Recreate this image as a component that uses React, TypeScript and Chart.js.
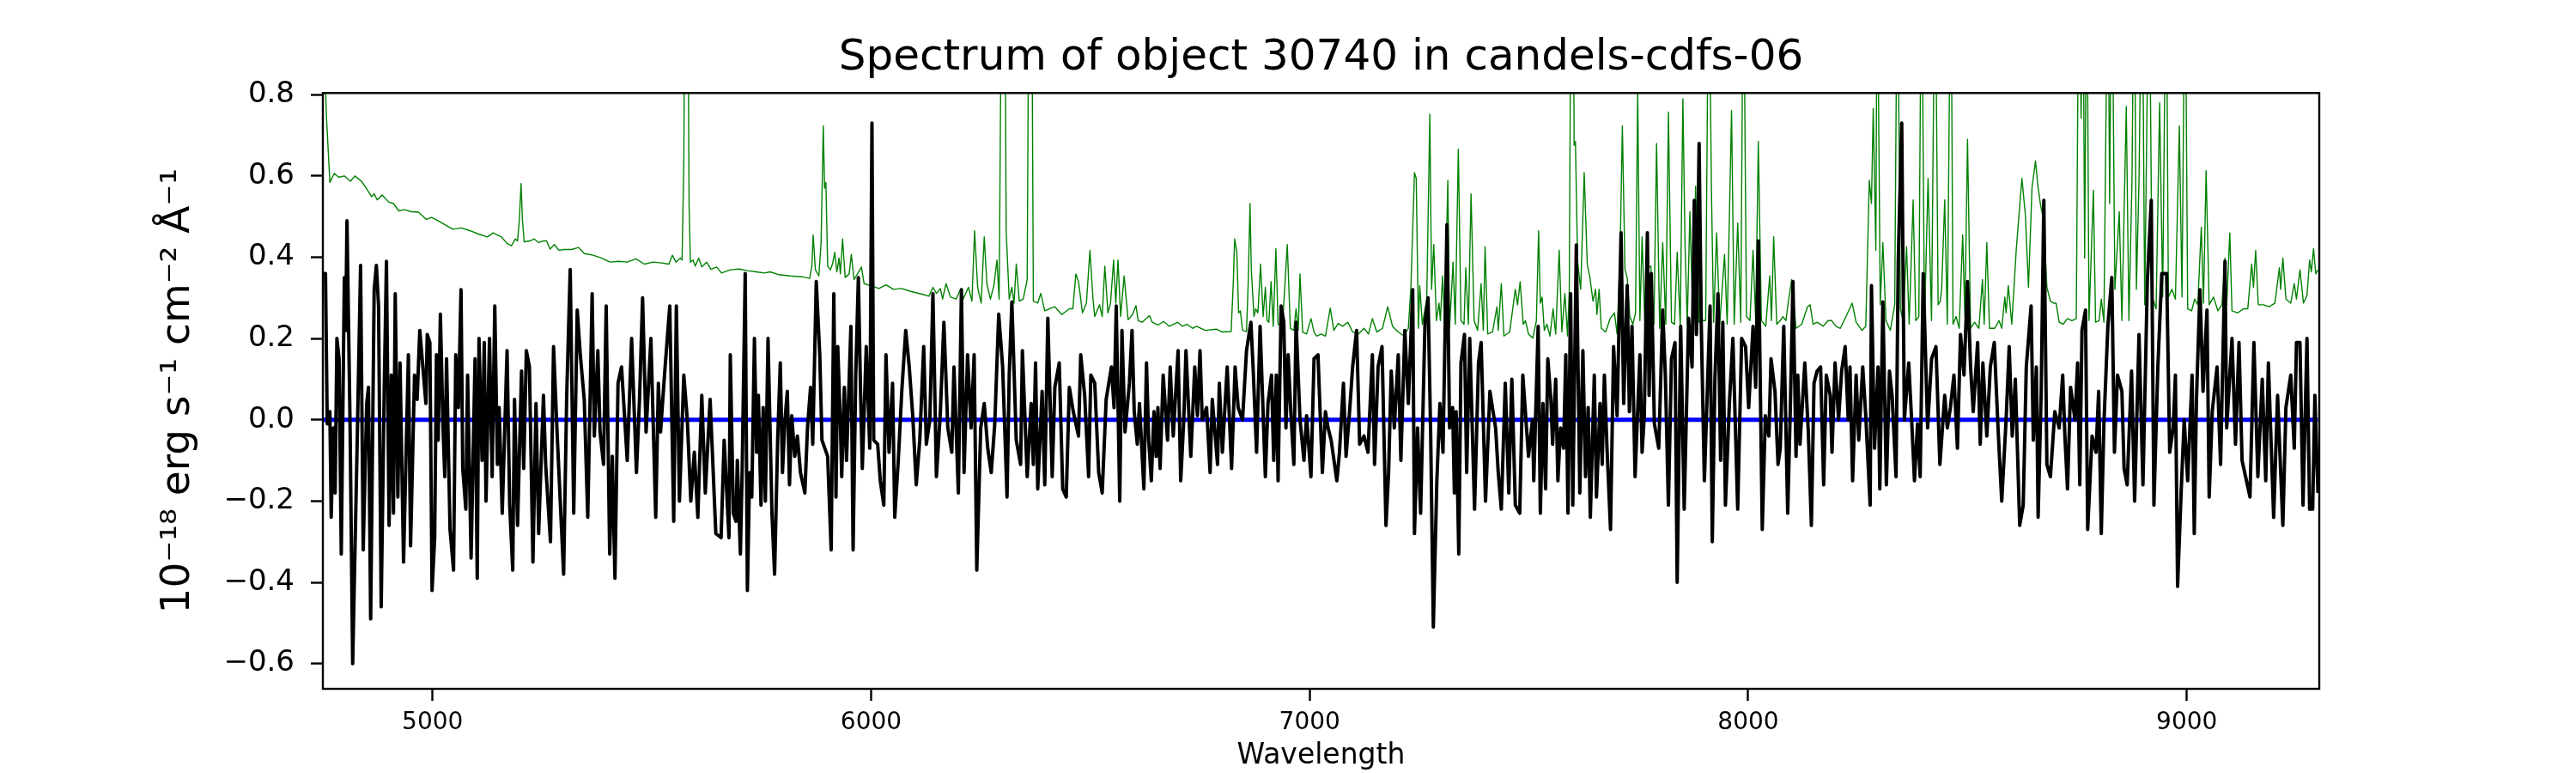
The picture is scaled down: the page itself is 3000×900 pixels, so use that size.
import { useEffect, useRef } from 'react';
import { Chart, registerables } from 'chart.js';

Chart.register(...registerables);

const FONT = 'DejaVu Sans';

const titleText = 'Spectrum of object 30740 in candels-cdfs-06';
const xLabel = 'Wavelength';
const yLabel = '10⁻¹⁸ erg s⁻¹ cm⁻² Å⁻¹';
const xTicks = [5000, 6000, 7000, 8000, 9000];
const yTicks = [-0.6, -0.4, -0.2, 0.0, 0.2, 0.4, 0.6, 0.8];
const xRange = [4750, 9302];
const yRange = [-0.662, 0.804];
const modelLevel = 0;

// [wavelength, flux] - extracted 1D spectrum (black)
const fluxSpectrum: [number, number][] = [
  [4750, 0.36], [4756, 0.36], [4760, -0.01], [4766, 0.02], [4769, -0.24], [4774, -0.02], [4778, -0.18], [4782, 0.2],
  [4787, 0.15], [4792, -0.33], [4799, 0.35], [4802, 0.22], [4805, 0.49], [4812, -0.01], [4818, -0.6], [4828, -0.07],
  [4836, 0.38], [4842, -0.32], [4850, 0.04], [4854, 0.08], [4859, -0.49], [4867, 0.32], [4872, 0.38], [4877, 0.28],
  [4883, -0.46], [4890, 0.08], [4895, 0.39], [4901, -0.26], [4906, 0.11], [4911, -0.23], [4915, 0.31], [4921, -0.19],
  [4926, 0.14], [4934, -0.35], [4945, 0.16], [4950, -0.31], [4959, 0.11], [4965, 0.05], [4971, 0.22], [4978, 0.13],
  [4985, 0.04], [4988, 0.21], [4994, 0.19], [4999, -0.42], [5005, -0.29], [5009, 0.16], [5013, -0.05], [5018, 0.26],
  [5024, -0.02], [5028, -0.14], [5032, 0.15], [5040, -0.27], [5048, -0.37], [5053, 0.16], [5059, 0.03], [5065, 0.32],
  [5069, -0.12], [5076, -0.22], [5080, 0.11], [5088, -0.34], [5097, 0.15], [5102, -0.39], [5106, 0.2], [5113, -0.1],
  [5118, 0.19], [5122, -0.2], [5130, 0.2], [5136, -0.14], [5142, 0.28], [5148, -0.11], [5152, 0.03], [5159, -0.23],
  [5170, 0.17], [5176, -0.21], [5183, -0.37], [5187, 0.05], [5194, -0.26], [5203, 0.12], [5208, -0.12], [5214, 0.17],
  [5221, 0.13], [5229, -0.35], [5236, 0.04], [5242, -0.28], [5253, 0.06], [5258, -0.11], [5269, -0.3], [5276, 0.18],
  [5284, -0.03], [5299, -0.38], [5306, 0.06], [5314, 0.37], [5322, -0.23], [5330, 0.27], [5337, 0.16], [5346, 0.05],
  [5354, -0.24], [5364, 0.31], [5369, -0.04], [5377, 0.17], [5382, -0.03], [5390, -0.11], [5396, 0.28], [5404, -0.33],
  [5410, -0.09], [5416, -0.39], [5423, 0.09], [5431, 0.13], [5444, -0.1], [5454, 0.2], [5465, -0.13], [5472, 0.05],
  [5479, 0.3], [5487, -0.03], [5498, 0.2], [5509, -0.24], [5515, 0.09], [5520, -0.03], [5529, 0.11], [5541, 0.28],
  [5550, -0.25], [5556, 0.28], [5563, -0.2], [5573, 0.11], [5581, 0.0], [5589, -0.2], [5597, -0.08], [5605, -0.24],
  [5614, 0.06], [5622, -0.18], [5633, 0.05], [5646, -0.28], [5658, -0.29], [5665, -0.05], [5676, -0.29],
  [5679, 0.16], [5686, -0.23], [5692, -0.25], [5695, -0.1], [5702, -0.33], [5706, -0.13], [5713, 0.36], [5718, -0.42],
  [5723, -0.13], [5728, -0.19], [5734, 0.2], [5739, -0.08], [5743, 0.06], [5749, -0.21], [5754, 0.03], [5759, -0.2],
  [5765, 0.2], [5774, -0.23], [5780, -0.38], [5787, -0.05], [5793, 0.14], [5798, -0.13], [5803, -0.01], [5809, 0.07],
  [5814, -0.16], [5819, 0.01], [5826, -0.09], [5832, -0.04], [5839, -0.13], [5849, -0.18], [5855, -0.02], [5862, 0.08],
  [5867, -0.06], [5875, 0.34], [5883, 0.16], [5888, -0.05], [5901, -0.09], [5909, -0.32], [5915, 0.31], [5920, -0.19],
  [5924, 0.18], [5930, -0.01], [5933, -0.14], [5939, 0.08], [5944, -0.1], [5954, 0.23], [5959, -0.32], [5965, 0.11],
  [5971, 0.35], [5976, 0.07], [5980, -0.12], [5989, 0.18], [5997, -0.07], [6002, 0.73], [6006, -0.05], [6015, -0.06],
  [6021, -0.15], [6029, -0.21], [6034, 0.16], [6041, -0.08], [6049, 0.09], [6054, -0.24], [6062, -0.1], [6070, 0.07],
  [6079, 0.22], [6087, 0.13], [6095, 0.01], [6103, -0.16], [6111, -0.05], [6120, 0.18], [6126, -0.06], [6134, 0.0],
  [6141, 0.31], [6149, -0.14], [6158, 0.02], [6166, 0.24], [6175, -0.02], [6184, -0.08], [6189, 0.13], [6199, -0.18],
  [6206, 0.32], [6212, -0.13], [6220, 0.16], [6228, -0.02], [6235, 0.16], [6241, -0.37], [6250, -0.02], [6258, 0.04],
  [6266, -0.07], [6274, -0.13], [6282, -0.01], [6291, 0.26], [6300, 0.13], [6310, -0.19], [6315, 0.11], [6321, 0.29],
  [6331, -0.05], [6341, -0.11], [6345, 0.17], [6356, -0.14], [6365, 0.04], [6370, -0.11], [6375, 0.14], [6380, -0.17],
  [6390, 0.07], [6396, -0.16], [6403, 0.25], [6413, -0.14], [6419, 0.08], [6429, 0.14], [6437, -0.17], [6445, -0.19],
  [6452, 0.08], [6461, 0.02], [6473, -0.04], [6478, 0.16], [6487, 0.06], [6496, -0.14], [6501, 0.11], [6510, 0.09],
  [6519, -0.13], [6527, -0.18], [6536, 0.05], [6548, 0.13], [6554, 0.03], [6559, 0.28], [6567, -0.2], [6572, 0.22],
  [6579, -0.03], [6589, 0.09], [6595, 0.22],
  [6600, 0.02], [6607, -0.06], [6612, 0.04], [6622, -0.17], [6628, 0.14], [6633, -0.05], [6639, -0.15], [6645, 0.02],
  [6650, -0.09], [6654, 0.03], [6659, -0.12], [6666, 0.11], [6676, -0.05], [6682, 0.13], [6689, -0.04], [6700, 0.17],
  [6706, -0.15], [6713, 0.0], [6718, 0.17], [6729, -0.09], [6738, 0.13], [6744, 0.01], [6750, 0.17], [6755, 0.0],
  [6765, 0.03], [6773, -0.13], [6778, 0.05], [6790, -0.11], [6794, 0.09], [6801, -0.08], [6812, 0.13], [6822, -0.12],
  [6830, 0.13], [6837, 0.03], [6847, 0.0], [6856, 0.17], [6866, 0.24], [6871, 0.13], [6879, -0.08], [6887, 0.23],
  [6899, -0.14], [6905, 0.04], [6913, 0.11], [6918, -0.1], [6924, 0.11], [6928, -0.15], [6935, 0.28], [6941, 0.24],
  [6946, -0.02], [6951, 0.16], [6957, 0.02], [6964, -0.11], [6969, 0.24], [6978, 0.0], [6987, -0.1], [6993, 0.01],
  [7003, -0.14], [7010, 0.15], [7019, 0.16], [7029, -0.13], [7036, 0.02], [7042, -0.02], [7049, -0.05], [7062, -0.15],
  [7068, -0.08], [7077, 0.09], [7083, -0.09], [7091, 0.02], [7098, 0.13], [7107, 0.22], [7114, -0.06], [7124, -0.04],
  [7133, -0.08], [7143, 0.16], [7148, -0.11], [7156, 0.13], [7165, 0.18], [7174, -0.26], [7180, -0.13], [7186, 0.12],
  [7193, -0.02], [7202, 0.16], [7208, -0.1], [7217, 0.22], [7225, 0.04], [7235, 0.32], [7239, -0.28], [7246, -0.02],
  [7253, -0.23], [7263, 0.24], [7270, 0.3], [7276, -0.04], [7282, -0.51], [7290, -0.15], [7297, 0.04], [7304, -0.08],
  [7313, 0.48], [7319, -0.02], [7326, 0.03], [7330, -0.18], [7334, 0.02], [7340, -0.33], [7345, 0.14], [7353, 0.21],
  [7358, -0.13], [7365, 0.2], [7376, -0.22], [7385, 0.14], [7391, 0.19], [7401, -0.2], [7411, 0.07], [7424, -0.02],
  [7430, -0.13], [7437, -0.22], [7446, 0.09], [7454, -0.18], [7461, 0.1], [7469, -0.21], [7479, -0.23], [7486, 0.11],
  [7499, -0.09], [7508, 0.0],
  [7511, -0.15], [7521, 0.23], [7526, -0.23], [7532, 0.04], [7538, -0.17], [7543, 0.15], [7550, 0.05], [7554, -0.06],
  [7561, 0.1], [7566, -0.15], [7572, -0.02], [7579, -0.07], [7584, 0.16], [7589, -0.23], [7595, 0.31], [7600, -0.21],
  [7608, 0.43], [7616, -0.18], [7623, 0.17], [7629, -0.14], [7635, 0.03], [7640, -0.24], [7649, 0.11], [7654, -0.19],
  [7662, 0.04], [7667, -0.11], [7672, 0.11], [7678, -0.07], [7686, -0.27], [7693, 0.18], [7701, 0.01], [7710, 0.46],
  [7716, 0.04], [7724, 0.33], [7729, 0.02], [7735, 0.23], [7742, -0.14], [7753, 0.16], [7758, -0.08], [7763, 0.01],
  [7770, 0.46], [7774, 0.06], [7779, 0.36], [7786, -0.01], [7796, -0.07], [7805, 0.27], [7811, 0.11], [7818, -0.21],
  [7825, 0.15], [7833, 0.19], [7838, -0.4], [7846, 0.23], [7854, -0.22], [7864, 0.25], [7872, 0.13], [7877, 0.54],
  [7882, 0.21], [7888, 0.68], [7893, 0.23], [7900, -0.15], [7913, 0.28], [7918, -0.3], [7924, 0.1], [7931, 0.31],
  [7937, -0.1], [7942, 0.24], [7948, -0.21], [7957, 0.04], [7965, 0.2], [7976, -0.22], [7985, 0.2], [7994, 0.18],
  [8001, 0.03], [8011, 0.23], [8017, 0.08], [8023, 0.44], [8032, -0.27], [8039, 0.01], [8047, -0.04], [8052, 0.15],
  [8061, 0.07], [8068, -0.11], [8073, -0.07], [8081, 0.23], [8090, -0.23], [8096, 0.03], [8102, 0.34], [8109, -0.09],
  [8113, 0.11], [8118, -0.06], [8129, 0.14], [8137, -0.03], [8144, -0.26], [8150, 0.09], [8157, 0.12], [8165, 0.13],
  [8172, -0.16], [8178, 0.11], [8187, 0.06], [8191, -0.08], [8198, 0.14], [8206, 0.0], [8213, 0.12], [8221, 0.18],
  [8228, 0.0], [8232, 0.13], [8238, -0.15], [8246, 0.11], [8252, -0.05], [8261, 0.13], [8268, 0.01], [8278, -0.21],
  [8281, 0.33], [8288, -0.07], [8296, 0.13], [8300, -0.17], [8307, 0.29], [8315, -0.16], [8322, 0.12], [8328, 0.06],
  [8337, -0.14], [8342, 0.39], [8350, 0.73], [8356, 0.0], [8366, 0.14], [8373, -0.01], [8379, -0.15], [8386, -0.01],
  [8392, -0.14], [8399, 0.36], [8409, -0.02], [8418, 0.15], [8428, 0.18], [8437, -0.11],
  [8448, 0.06], [8454, -0.02], [8461, 0.03], [8469, 0.11], [8477, -0.07], [8484, 0.21], [8492, 0.11], [8500, 0.34],
  [8507, 0.13], [8513, 0.02], [8523, 0.19], [8529, -0.06], [8535, 0.14], [8544, -0.04], [8552, 0.13], [8561, 0.19],
  [8570, -0.03], [8578, -0.2], [8588, 0.0], [8595, 0.18], [8602, -0.04], [8609, 0.1], [8619, -0.26], [8627, -0.21],
  [8634, 0.13], [8645, 0.28], [8650, -0.05], [8657, 0.13], [8661, -0.24], [8668, 0.07], [8674, 0.54], [8681, -0.11],
  [8689, -0.14], [8699, 0.02], [8709, -0.02], [8717, 0.11], [8722, -0.04], [8728, -0.17], [8735, 0.08], [8745, 0.0],
  [8751, 0.14], [8756, -0.16], [8761, 0.22], [8769, 0.27], [8774, -0.27], [8784, -0.04], [8793, -0.08], [8799, 0.07],
  [8805, -0.28], [8811, -0.01], [8820, 0.23], [8829, 0.35], [8835, -0.08], [8842, 0.11], [8852, 0.07], [8857, -0.12],
  [8864, -0.16], [8874, 0.12], [8881, -0.2], [8891, 0.21], [8900, -0.16], [8910, 0.34], [8919, 0.54], [8925, -0.21],
  [8934, 0.13], [8943, 0.36], [8954, 0.36], [8961, -0.08], [8969, -0.02], [8974, 0.11], [8979, -0.41], [8987, -0.18],
  [8994, 0.0], [9002, -0.15], [9012, 0.11], [9017, -0.28], [9022, 0.05], [9030, 0.32], [9037, 0.07], [9046, 0.27],
  [9051, -0.19], [9058, 0.02], [9069, 0.13], [9077, -0.11], [9087, 0.39], [9091, -0.02], [9103, 0.2], [9111, -0.06],
  [9119, 0.19], [9126, -0.1], [9134, -0.14], [9144, -0.19], [9153, 0.19], [9162, -0.14], [9172, 0.1], [9180, -0.15],
  [9186, 0.14], [9198, -0.24], [9207, 0.06], [9219, -0.26], [9226, 0.03], [9237, 0.11], [9245, -0.07], [9250, 0.19],
  [9258, 0.19], [9265, -0.21], [9274, 0.2], [9280, -0.22], [9287, -0.22], [9292, 0.06], [9299, -0.18],
];

// [wavelength, flux] - error / sky spectrum (green); values above the axis are clipped
const errorSpectrum: [number, number][] = [
  [4748, 1.1], [4758, 0.75], [4766, 0.584], [4776, 0.606], [4786, 0.597], [4799, 0.6], [4813, 0.587], [4823, 0.6],
  [4838, 0.587], [4850, 0.568], [4861, 0.549], [4867, 0.556], [4874, 0.541], [4885, 0.553], [4900, 0.536], [4911, 0.532],
  [4923, 0.514], [4936, 0.517], [4952, 0.512], [4968, 0.511], [4986, 0.493], [4998, 0.498], [5014, 0.489], [5030, 0.479],
  [5046, 0.469], [5066, 0.472], [5086, 0.465], [5105, 0.457], [5125, 0.45], [5138, 0.46], [5157, 0.45], [5170, 0.434],
  [5180, 0.428], [5189, 0.445], [5194, 0.44], [5198, 0.493], [5202, 0.581], [5205, 0.493], [5209, 0.438], [5222, 0.44],
  [5232, 0.445], [5242, 0.436], [5252, 0.44], [5260, 0.44], [5268, 0.42], [5278, 0.431], [5288, 0.417], [5301, 0.419],
  [5317, 0.419], [5333, 0.424], [5346, 0.409], [5366, 0.405], [5385, 0.398], [5405, 0.388], [5425, 0.39], [5444, 0.388],
  [5464, 0.396], [5483, 0.383], [5503, 0.388], [5522, 0.386], [5539, 0.383], [5547, 0.405], [5555, 0.388], [5565, 0.398],
  [5569, 0.393], [5573, 0.63], [5576, 1.2], [5582, 1.2], [5585, 0.53], [5588, 0.388], [5594, 0.393], [5599, 0.378],
  [5607, 0.398], [5614, 0.376], [5625, 0.388], [5635, 0.37], [5648, 0.376], [5659, 0.361], [5679, 0.369],
  [5699, 0.371], [5718, 0.367], [5738, 0.364], [5757, 0.361], [5770, 0.364], [5790, 0.357], [5816, 0.354], [5842, 0.352],
  [5860, 0.348], [5865, 0.378], [5868, 0.455], [5873, 0.369], [5881, 0.354], [5886, 0.436], [5891, 0.723], [5894, 0.57],
  [5897, 0.584], [5901, 0.378], [5907, 0.369], [5912, 0.383], [5917, 0.412], [5922, 0.364], [5927, 0.398], [5930, 0.359],
  [5935, 0.445], [5941, 0.35], [5950, 0.359], [5955, 0.407], [5961, 0.345], [5969, 0.359], [5978, 0.376], [5984, 0.335],
  [5999, 0.33], [6018, 0.323], [6034, 0.332], [6051, 0.321], [6070, 0.323], [6090, 0.316], [6116, 0.309], [6132, 0.304],
  [6141, 0.326], [6149, 0.311], [6158, 0.323], [6163, 0.297], [6171, 0.335], [6181, 0.302], [6194, 0.297], [6204, 0.321],
  [6210, 0.297], [6222, 0.326], [6230, 0.292], [6236, 0.465], [6243, 0.326], [6251, 0.287], [6258, 0.45], [6264, 0.335],
  [6272, 0.297], [6280, 0.33], [6287, 0.393], [6292, 0.297], [6298, 1.2], [6305, 1.2], [6308, 0.465], [6315, 0.297],
  [6321, 0.326], [6326, 0.287], [6331, 0.383], [6338, 0.292], [6347, 0.297], [6356, 0.345], [6360, 1.2], [6366, 1.2],
  [6370, 0.292], [6380, 0.287], [6387, 0.311], [6396, 0.268], [6406, 0.273], [6419, 0.278], [6435, 0.259], [6452, 0.273],
  [6460, 0.273], [6467, 0.359], [6473, 0.34], [6482, 0.263], [6491, 0.287], [6499, 0.417], [6506, 0.297], [6510, 0.254],
  [6521, 0.283], [6527, 0.254], [6533, 0.378], [6540, 0.263], [6546, 0.287], [6553, 0.393], [6558, 0.287], [6563, 0.393],
  [6569, 0.254], [6577, 0.354], [6586, 0.246], [6596, 0.259], [6604, 0.281], [6609, 0.244], [6618, 0.24], [6628, 0.25],
  [6635, 0.256], [6641, 0.24], [6654, 0.233], [6667, 0.242], [6680, 0.23], [6699, 0.24], [6710, 0.23], [6720, 0.235],
  [6733, 0.225], [6742, 0.23], [6762, 0.22], [6787, 0.223], [6801, 0.216], [6821, 0.217], [6826, 0.34], [6829, 0.445],
  [6834, 0.412], [6838, 0.263], [6842, 0.268], [6847, 0.22], [6856, 0.217], [6860, 0.34], [6864, 0.532], [6867, 0.369],
  [6873, 0.254], [6877, 0.273], [6882, 0.263], [6888, 0.383], [6894, 0.254], [6899, 0.326], [6903, 0.244], [6907, 0.24],
  [6912, 0.34], [6917, 0.23], [6923, 0.421], [6928, 0.235], [6938, 0.23], [6949, 0.431], [6956, 0.225], [6964, 0.22],
  [6969, 0.273], [6974, 0.22], [6978, 0.359], [6984, 0.216], [6993, 0.211], [7003, 0.249], [7010, 0.216], [7016, 0.206],
  [7026, 0.211], [7036, 0.206], [7047, 0.275], [7055, 0.22], [7065, 0.237], [7075, 0.23], [7087, 0.24], [7098, 0.216],
  [7111, 0.211], [7124, 0.225], [7134, 0.211], [7143, 0.249], [7153, 0.216], [7166, 0.225], [7178, 0.278], [7189, 0.23],
  [7202, 0.216], [7215, 0.206], [7225, 0.225], [7231, 0.33], [7239, 0.608], [7243, 0.594], [7248, 0.225], [7251, 0.33],
  [7257, 0.235], [7267, 0.297], [7274, 0.752], [7278, 0.321], [7283, 0.431], [7289, 0.244], [7295, 0.287], [7298, 0.244],
  [7303, 0.354], [7308, 0.235], [7315, 0.589], [7319, 0.225], [7327, 0.388], [7332, 0.235], [7339, 0.666], [7345, 0.244],
  [7352, 0.235], [7356, 0.374], [7362, 0.235], [7368, 0.556], [7375, 0.244], [7383, 0.22], [7391, 0.335], [7396, 0.22],
  [7400, 0.426], [7406, 0.211], [7417, 0.216], [7427, 0.278], [7430, 0.22], [7437, 0.335], [7443, 0.206], [7456, 0.216],
  [7469, 0.321], [7474, 0.283], [7480, 0.34], [7487, 0.235], [7492, 0.244], [7499, 0.211], [7509, 0.201],
  [7517, 0.244], [7522, 0.465], [7526, 0.287], [7530, 0.302], [7535, 0.22], [7541, 0.235], [7548, 0.206], [7555, 0.273],
  [7561, 0.211], [7569, 0.417], [7575, 0.216], [7582, 0.311], [7588, 0.206], [7592, 0.321], [7596, 1.2], [7601, 1.2],
  [7603, 0.675], [7606, 0.685], [7611, 0.388], [7618, 0.321], [7626, 0.608], [7633, 0.383], [7639, 0.35], [7646, 0.292],
  [7652, 0.321], [7655, 0.259], [7660, 0.321], [7665, 0.225], [7675, 0.216], [7685, 0.249], [7695, 0.263], [7701, 0.211],
  [7708, 0.417], [7713, 0.723], [7719, 0.369], [7724, 0.35], [7730, 0.254], [7737, 0.235], [7743, 0.263], [7748, 0.81],
  [7753, 0.244], [7758, 0.45], [7764, 0.244], [7772, 0.374], [7778, 0.378], [7785, 0.235], [7791, 0.68], [7798, 0.225],
  [7805, 0.436], [7812, 0.235], [7818, 0.757], [7825, 0.24], [7832, 0.235], [7838, 0.412], [7845, 0.23], [7851, 0.79],
  [7856, 0.426], [7861, 0.235], [7867, 0.512], [7874, 0.235], [7880, 0.575], [7888, 0.24], [7895, 0.244], [7903, 0.244],
  [7910, 1.2], [7916, 0.575], [7921, 0.24], [7928, 0.46], [7935, 0.235], [7946, 0.407], [7952, 0.235], [7962, 0.761],
  [7968, 0.235], [7976, 0.484], [7983, 0.24], [7989, 1.2], [7996, 0.254], [8004, 0.244], [8011, 0.417], [8017, 0.244],
  [8023, 0.685], [8030, 0.244], [8040, 0.23], [8049, 0.354], [8053, 0.244], [8058, 0.45], [8065, 0.235], [8073, 0.244],
  [8079, 0.254], [8086, 0.244], [8091, 0.287], [8099, 0.345], [8109, 0.225], [8122, 0.235], [8135, 0.278], [8141, 0.283],
  [8148, 0.235], [8157, 0.24], [8171, 0.23], [8182, 0.244], [8190, 0.244], [8200, 0.23], [8210, 0.225], [8223, 0.254],
  [8237, 0.287], [8246, 0.24], [8259, 0.22], [8268, 0.23], [8276, 0.589], [8281, 0.532], [8285, 0.766], [8291, 0.417],
  [8294, 1.2], [8301, 0.283], [8307, 0.436], [8314, 0.244], [8324, 0.22], [8334, 0.283], [8340, 1.2], [8347, 0.273],
  [8353, 0.244], [8361, 0.426], [8367, 0.235], [8376, 0.541], [8382, 0.244], [8389, 0.254], [8395, 1.2], [8402, 0.235],
  [8410, 0.594], [8418, 0.244], [8426, 1.2], [8433, 0.283], [8438, 0.292],
  [8441, 0.321], [8448, 0.541], [8454, 0.235], [8462, 1.2], [8467, 0.235], [8474, 0.254], [8481, 0.225], [8489, 0.455],
  [8494, 0.254], [8500, 0.69], [8507, 0.225], [8516, 0.24], [8526, 0.225], [8534, 0.345], [8538, 0.235], [8544, 0.436],
  [8550, 0.225], [8562, 0.225], [8572, 0.244], [8578, 0.225], [8585, 0.302], [8588, 0.263], [8593, 0.33], [8601, 0.235],
  [8611, 0.417], [8624, 0.594], [8632, 0.503], [8639, 0.326], [8647, 0.57], [8655, 0.637], [8660, 0.58], [8666, 0.532],
  [8673, 0.493], [8681, 0.326], [8689, 0.292], [8696, 0.287], [8702, 0.287], [8709, 0.24], [8718, 0.235], [8728, 0.249],
  [8738, 0.244], [8748, 0.249], [8754, 1.2], [8759, 0.742], [8763, 1.2], [8767, 0.398], [8772, 1.2], [8777, 0.244],
  [8787, 0.565], [8792, 0.24], [8800, 0.244], [8805, 0.297], [8811, 0.24], [8820, 1.2], [8824, 0.532], [8829, 1.2],
  [8836, 0.321], [8846, 0.512], [8852, 0.244], [8862, 0.771], [8868, 0.244], [8875, 0.589], [8880, 1.2], [8885, 0.321],
  [8891, 0.589], [8898, 1.2], [8904, 0.283], [8914, 1.2], [8921, 0.302], [8930, 0.273], [8938, 0.78], [8945, 0.302],
  [8953, 1.2], [8958, 0.302], [8966, 0.321], [8974, 0.297], [8983, 0.723], [8989, 0.302], [8996, 1.2], [9002, 0.273],
  [9011, 0.268], [9018, 0.297], [9025, 0.283], [9033, 0.474], [9038, 0.287], [9044, 0.613], [9051, 0.283], [9061, 0.302],
  [9071, 0.268], [9080, 0.283], [9087, 0.398], [9091, 0.283], [9098, 0.46], [9103, 0.268], [9116, 0.263], [9129, 0.273],
  [9139, 0.273], [9148, 0.383], [9152, 0.326], [9157, 0.417], [9163, 0.283], [9175, 0.283], [9188, 0.278], [9201, 0.287],
  [9211, 0.374], [9214, 0.321], [9219, 0.398], [9226, 0.297], [9237, 0.287], [9245, 0.335], [9250, 0.297], [9258, 0.369],
  [9266, 0.287], [9274, 0.306], [9280, 0.393], [9284, 0.364], [9289, 0.421], [9294, 0.359], [9299, 0.369],
];

// draws the box round the plot, like matplotlib's spines
const framePlugin = {
  id: 'frame',
  afterDraw(chart: Chart) {
    const { ctx, chartArea: a } = chart;
    ctx.save();
    ctx.strokeStyle = '#000';
    ctx.lineWidth = 2.4;
    ctx.strokeRect(a.left, a.top, a.right - a.left, a.bottom - a.top);
    ctx.restore();
  },
};

const minusFmt = (v: number) => (v < -1e-9 ? '\u2212' : '') + Math.abs(v).toFixed(1);

const SpectrumChart = () => {
  const chartRef = useRef<HTMLCanvasElement>(null);
  const chartInstance = useRef<Chart | null>(null);

  useEffect(() => {
    if (chartInstance.current) {
      chartInstance.current.destroy();
    }
    if (!chartRef.current) return;

    chartInstance.current = new Chart(chartRef.current, {
      type: 'line',
      data: {
        datasets: [
          {
            label: 'flux',
            data: fluxSpectrum.map(([x, y]) => ({ x, y })),
            borderColor: '#000000',
            borderWidth: 4,
            order: 0,
          },
          {
            label: 'model',
            data: fluxSpectrum.map(([x]) => ({ x, y: modelLevel })),
            borderColor: '#0000ff',
            borderWidth: 5,
            order: 1,
          },
          {
            label: 'error',
            data: errorSpectrum.map(([x, y]) => ({ x, y })),
            borderColor: '#008000',
            borderWidth: 1.4,
            order: 2,
          },
        ],
      },
      options: {
        responsive: false,
        animation: false,
        devicePixelRatio: 1,
        layout: { padding: { left: 0, right: 299, top: 0, bottom: 0 } },
        elements: {
          point: { radius: 0 },
          line: { tension: 0, borderJoinStyle: 'round', fill: false },
        },
        plugins: {
          legend: { display: false },
          tooltip: { enabled: false },
          title: {
            display: true,
            text: titleText,
            fullSize: false,
            color: '#000',
            font: { family: FONT, size: 50, weight: 'normal' },
            padding: { top: 38.4, bottom: 9.9 },
          },
        },
        scales: {
          x: {
            type: 'linear',
            min: xRange[0],
            max: xRange[1],
            afterBuildTicks: (s: any) => {
              s.ticks = xTicks.map((value) => ({ value }));
            },
            afterFit: (s: any) => {
              s.height = 98;
            },
            border: { display: false },
            grid: { drawOnChartArea: false, drawTicks: true, tickLength: 14, tickWidth: 2.4, tickColor: '#000' },
            ticks: {
              color: '#000',
              padding: 9,
              maxRotation: 0,
              autoSkip: false,
              font: { family: FONT, size: 28 },
              callback: (v: any) => String(v),
            },
            title: {
              display: true,
              text: xLabel,
              color: '#000',
              font: { family: FONT, size: 33 },
              padding: { top: 4, bottom: 0 },
            },
          },
          y: {
            type: 'linear',
            min: yRange[0],
            max: yRange[1],
            afterBuildTicks: (s: any) => {
              s.ticks = yTicks.map((value) => ({ value }));
            },
            afterFit: (s: any) => {
              s.width = 376;
            },
            border: { display: false },
            grid: { drawOnChartArea: false, drawTicks: true, tickLength: 14, tickWidth: 2.4, tickColor: '#000' },
            ticks: {
              color: '#000',
              padding: 19,
              autoSkip: false,
              font: { family: FONT, size: 34 },
              callback: (v: any) => minusFmt(Number(v)),
            },
            title: {
              display: true,
              text: yLabel,
              color: '#000',
              font: { family: FONT, size: 47 },
              padding: { top: 180, bottom: 0 },
            },
          },
        },
      },
      plugins: [framePlugin],
    });

    return () => {
      if (chartInstance.current) {
        chartInstance.current.destroy();
        chartInstance.current = null;
      }
    };
  }, []);

  return (
    <div style={{ position: 'absolute', left: 0, top: 0, width: 3000, height: 900, background: '#fff' }}>
      <canvas ref={chartRef} width={3000} height={900}></canvas>
    </div>
  );
};

export default function App() {
  return <SpectrumChart />;
}
